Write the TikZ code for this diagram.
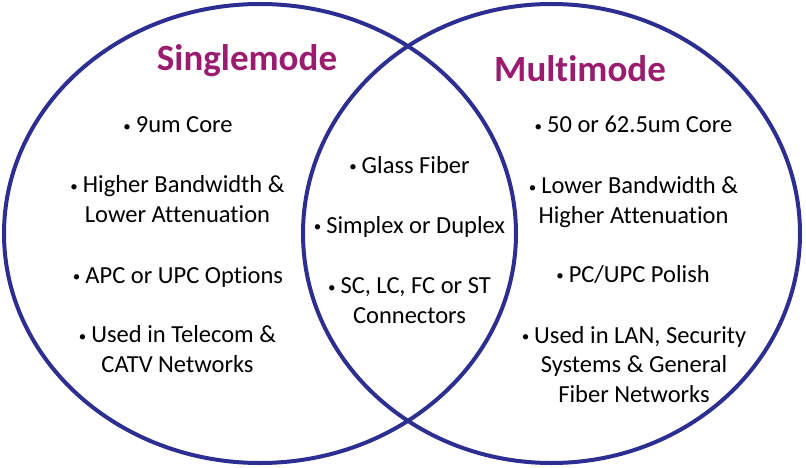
\documentclass[tikz,border=0pt]{standalone}
\usepackage{fontspec}
\setmainfont{Carlito}[Ligatures={NoCommon}]
\definecolor{ringblue}{RGB}{44,46,145}
\definecolor{titlemag}{RGB}{155,28,110}
\newcommand{\bul}{{\fontsize{15}{15}\selectfont\raisebox{1.5pt}{•}}\hspace{5pt}}
\begin{document}
\begin{tikzpicture}[x=1pt,y=-1pt,
  ring/.style={draw=ringblue,line width=4pt},
  title/.style={anchor=base,text=titlemag,font=\fontsize{37}{44}\selectfont\bfseries,inner sep=0pt},
  item/.style={anchor=base,align=center,font=\fontsize{24.5}{29.5}\selectfont,inner sep=0pt}]
\useasboundingbox (0,0) rectangle (806,468);
\draw[ring] (260,233.5) ellipse [x radius=256, y radius=229.5];
\draw[ring] (551.5,233.5) ellipse [x radius=248.5, y radius=229.5];
\node[title] (tsingle) at (247,71) {Singlemode};
\node[title] (tmulti) at (580,82) {Multimode};
% left
\node[item] (l1) at (178,133) {\bul 9um Core};
\node[item] (l2) at (177.5,222) {\bul Higher Bandwidth \&\\Lower Attenuation};
\node[item] (l3) at (178,283) {\bul APC or UPC Options};
\node[item] (l4) at (177.5,372) {\bul Used in Telecom \&\\CATV Networks};
% middle
\node[item] (m1) at (409.5,173) {\bul Glass Fiber};
\node[item] (m2) at (409.5,233) {\bul Simplex or Duplex};
\node[item] (m3) at (409.5,323) {\bul SC, LC, FC or ST\\Connectors};
% right
\node[item] (r1) at (633.5,133) {\bul 50 or 62.5um Core};
\node[item] (r2) at (633.5,223) {\bul Lower Bandwidth \&\\Higher Attenuation};
\node[item] (r3) at (633,282) {\bul PC/UPC Polish};
\node[item] (r4) at (634,402) {\bul Used in LAN, Security\\Systems \& General\\Fiber Networks};
\end{tikzpicture}
\end{document}
